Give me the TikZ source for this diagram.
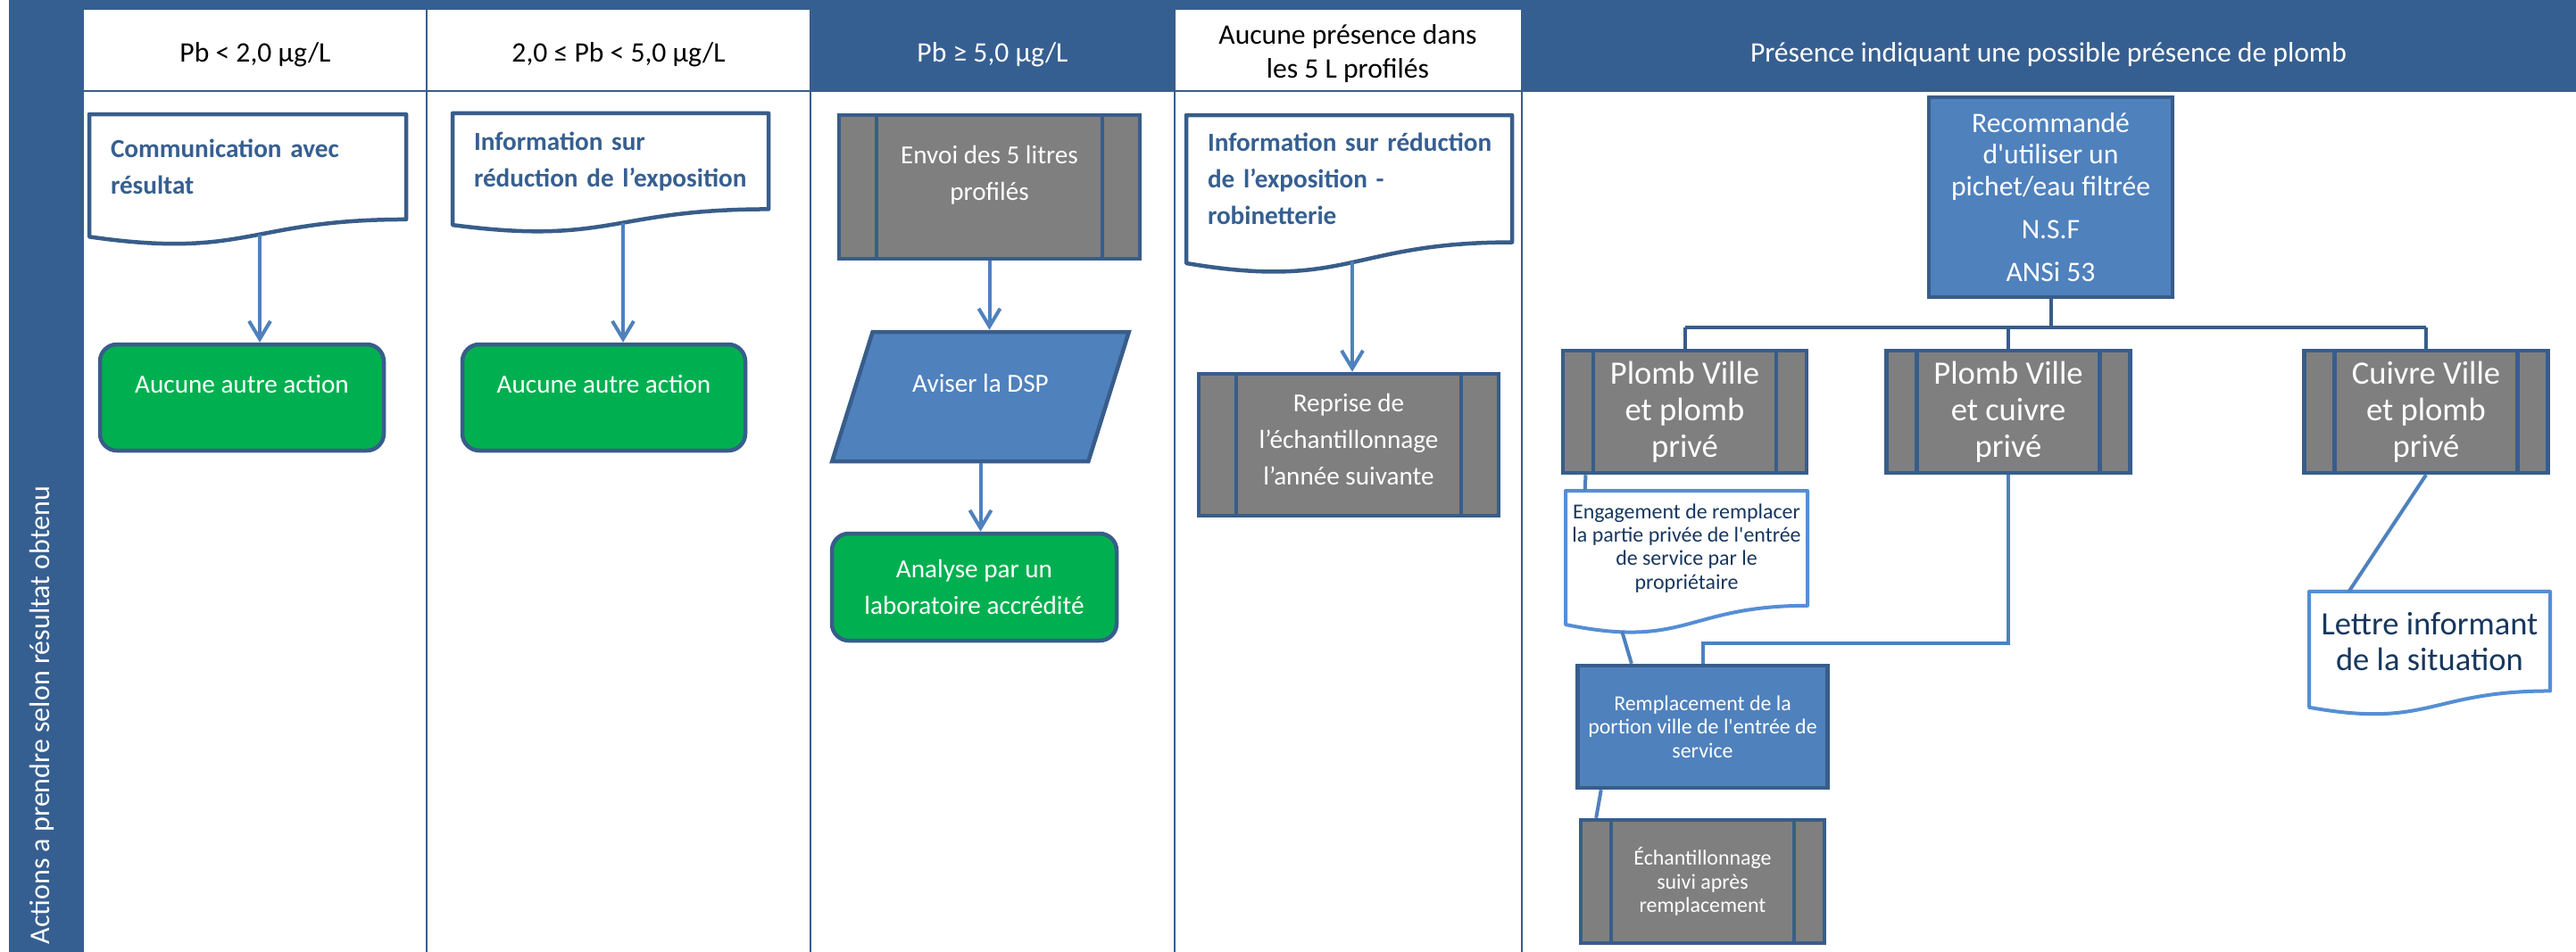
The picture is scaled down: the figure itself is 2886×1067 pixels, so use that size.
\documentclass[tikz,border=0pt]{standalone}
\usepackage{fontspec}
\setmainfont{Carlito}
\usetikzlibrary{positioning,calc,arrows.meta,shapes.geometric}

\definecolor{bandblue}{HTML}{365F91}
\definecolor{lineblue}{HTML}{385D8A}
\definecolor{fillblue}{HTML}{4F81BD}
\definecolor{docblue}{HTML}{558ED5}
\definecolor{navy}{HTML}{17375E}
\definecolor{okgreen}{HTML}{00B050}
\definecolor{subgray}{HTML}{7F7F7F}

\tikzset{
  sep/.style={lineblue, line width=0.2mm},
  colhead/.style={align=center, inner sep=0pt, font=\fontsize{9}{10.8}\selectfont},
  docbox/.style={rectangle, outer sep=0pt, inner sep=0pt, align=left, text=bandblue,
    font=\bfseries\fontsize{8.3}{11.6}\selectfont},
  notebox/.style={rectangle, outer sep=0pt, inner sep=0pt, align=center, text=navy},
  docline/.style={lineblue, line width=0.45mm, line join=round},
  notedocline/.style={docblue, line width=0.4mm, line join=round},
  endbox/.style={rectangle, rounded corners=1.9mm, fill=okgreen, draw=lineblue, line width=0.45mm,
    minimum height=11.9mm, text=white, align=center, font=\fontsize{8.3}{11.7}\selectfont},
  procbox/.style={rectangle, fill=fillblue, draw=lineblue, line width=0.45mm, text=white, align=center},
  subbox/.style={rectangle, fill=subgray, draw=lineblue, line width=0.45mm, text=white, align=center,
    path picture={
      \draw[lineblue, line width=0.45mm]
        ($(path picture bounding box.north west)!0.125!(path picture bounding box.north east)$) --
        ($(path picture bounding box.south west)!0.125!(path picture bounding box.south east)$)
        ($(path picture bounding box.north west)!0.875!(path picture bounding box.north east)$) --
        ($(path picture bounding box.south west)!0.875!(path picture bounding box.south east)$);
    }},
  ioshape/.style={trapezium, trapezium left angle=66, trapezium right angle=114, trapezium stretches=true,
    fill=fillblue, draw=lineblue, line width=0.45mm, text=white, align=center,
    font=\fontsize{8.3}{11.7}\selectfont},
  arr/.style={->, fillblue, line width=0.4mm},
  tree/.style={lineblue, line width=0.4mm},
  link/.style={fillblue, line width=0.4mm}
}

\newcommand{\docframe}[2]{\draw[#2] (#1.north west) -- (#1.north east) -- (#1.south east)
  .. controls (#1.south) and ($(#1.north)!1.381!(#1.south)$) .. ($(#1.north west)!1.1646!(#1.south west)$) -- cycle;}

\begin{document}
\begin{tikzpicture}[>={Straight Barb[length=2mm,width=2.4mm]}, x=0.1mm, y=-0.1mm]
  \useasboundingbox (0,0) rectangle (2886,1067);
  \fill[white] (0,0) rectangle (2886,1067);
  \fill[bandblue] (10,0) rectangle (2886,102);
  \fill[bandblue] (10,0) rectangle (94,1067);
  \fill[white] (94,11) rectangle (908,102);
  \fill[white] (1316,11) rectangle (1705,102);
  \foreach \x in {478,908,1316,1705} \draw[sep] (\x,11) -- (\x,1067);
  \draw[sep] (94,102) -- (2886,102);

  \node[colhead] (h1) at (286,61) {Pb < 2,0 µg/L};
  \node[colhead] (h2) at (693,61) {2,0 ≤ Pb < 5,0 µg/L};
  \node[colhead, text=white] (h3) at (1112,61) {Pb ≥ 5,0 µg/L};
  \node[colhead] (h4) at (1510,60) {Aucune présence dans\\les 5 L profilés};
  \node[colhead, text=white] (h5) at (2295,61) {Présence indiquant une possible présence de plomb};
  \node[rotate=90, anchor=west, inner sep=0pt, text=white, font=\fontsize{9.1}{11}\selectfont] (side) at (47,1059) {Actions a prendre selon résultat obtenu};

  \node[docbox, minimum width=35.5mm, minimum height=11.79mm, text width=30.7mm] (com) at (277.5,187) {Communication avec\\résultat};
  \node[docbox, minimum width=35.4mm, minimum height=10.75mm, text width=30.6mm] (info) at (684,180.7) {Information sur\\\mbox{réduction de l’exposition}};
  \node[docbox, minimum width=36.5mm, minimum height=14.25mm, text width=31.7mm] (robi) at (1511.5,200.3) {\mbox{Information sur réduction}\\de l’exposition -\\robinetterie};
  \docframe{com}{docline}
  \docframe{info}{docline}
  \docframe{robi}{docline}

  \node[endbox, minimum width=31.8mm] (none1) at (271,445.5) {Aucune autre action\\[-3pt]\mbox{}};
  \node[endbox, minimum width=31.7mm] (none2) at (676.5,445.5) {Aucune autre action\\[-3pt]\mbox{}};

  \node[subbox, minimum width=33.7mm, minimum height=16.1mm, font=\fontsize{8.3}{11.7}\selectfont] (envoi) at (1108.5,209.5) {Envoi des 5 litres\\profilés\\[-3pt]\mbox{}};
  \node[ioshape, minimum width=33.3mm, minimum height=14.5mm] (dsp) at (1098.5,444.5) {Aviser la DSP\\[-3pt]\mbox{}};
  \node[endbox, minimum width=31.9mm, minimum height=12mm] (lab) at (1091.5,658) {Analyse par un\\laboratoire accrédité};

  \node[subbox, minimum width=33.6mm, minimum height=15.9mm, font=\fontsize{8.3}{11.7}\selectfont] (reprise) at (1511,498.5) {Reprise de\\l’échantillonnage\\l’année suivante\\[-8pt]\mbox{}};

  \node[procbox, minimum width=27.3mm, minimum height=22.4mm, font=\fontsize{9}{10.1}\selectfont] (reco) at (2297.5,221) {Recommandé\\d\textquotesingle{}utiliser un\\pichet/eau filtrée\\[3.6pt]N.S.F\\[3.6pt]ANSi 53};
  \node[subbox, minimum width=27.3mm, minimum height=13.7mm, font=\fontsize{10.4}{11.6}\selectfont] (pvp) at (1887.5,461.5) {Plomb Ville\\et plomb\\privé};
  \node[subbox, minimum width=27.3mm, minimum height=13.7mm, font=\fontsize{10.4}{11.6}\selectfont] (pvc) at (2250,461.5) {Plomb Ville\\et cuivre\\privé};
  \node[subbox, minimum width=27.3mm, minimum height=13.7mm, font=\fontsize{10.4}{11.6}\selectfont] (cvp) at (2718,461.5) {Cuivre Ville\\et plomb\\privé};
  \node[notebox, minimum width=27.1mm, minimum height=12.88mm, font=\fontsize{6.8}{7.5}\selectfont] (eng) at (1889.5,614.4) {Engagement de remplacer\\la partie privée de l\textquotesingle{}entrée\\de service par le\\propriétaire};
  \docframe{eng}{notedocline}
  \node[procbox, minimum width=27.3mm, minimum height=13.7mm, font=\fontsize{6.8}{7.5}\selectfont] (rempl) at (1907.5,814.5) {Remplacement de la\\portion ville de l\textquotesingle{}entrée de\\service};
  \node[subbox, minimum width=27.3mm, minimum height=13.8mm, font=\fontsize{6.8}{7.5}\selectfont] (echant) at (1907.5,988) {Échantillonnage\\suivi après\\remplacement};
  \node[notebox, minimum width=27mm, minimum height=11.15mm, font=\fontsize{10.4}{11.3}\selectfont] (lettre) at (2722,718.7) {Lettre informant\\de la situation};
  \docframe{lettre}{notedocline}

  \coordinate (comw) at (291,262.5);
  \coordinate (infow) at (698,250);
  \coordinate (robiw) at (1515,293);
  \coordinate (engw) at (1817,707);
  \draw[arr] (comw) -- (comw |- none1.north);
  \draw[arr] (infow) -- (infow |- none2.north);
  \draw[arr] (envoi.south) -- (envoi.south |- dsp.north);
  \draw[arr] (dsp.south) -- (dsp.south |- lab.north);
  \draw[arr] (robiw) -- (robiw |- reprise.north);

  \draw[tree] (reco.south) -- ++(0,32) coordinate (fork);
  \draw[tree] (fork -| pvp.north) -- (fork -| cvp.north);
  \foreach \n in {pvp,pvc,cvp} \draw[tree] (fork -| \n.north) -- (\n.north);
  \draw[link] ($(pvp.south west)!0.1!(pvp.south east)$) -- ($(eng.north west)!0.08!(eng.north east)$);
  \draw[link] (engw) -- ($(rempl.north west)!0.22!(rempl.north east)$);
  \draw[link] (pvc.south) -- ++(0,189) -| (rempl.north);
  \draw[link] ($(rempl.south west)!0.1!(rempl.south east)$) -- ($(echant.north west)!0.07!(echant.north east)$);
  \draw[link] (cvp.south) -- ($(lettre.north west)!0.165!(lettre.north east)$);
\end{tikzpicture}
\end{document}
